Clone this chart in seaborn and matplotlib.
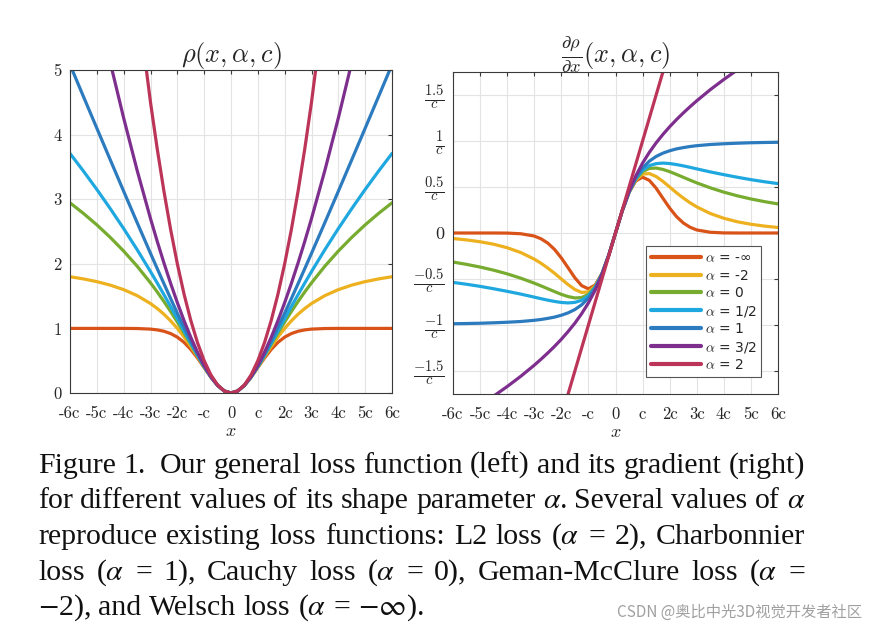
import numpy as np
import pandas as pd
import matplotlib
matplotlib.use('Agg')
import matplotlib.pyplot as plt
import seaborn as sns

# sample positions on x >= 0 (units of c); rho is even, its gradient is odd
x_half = [0, 0.25, 0.5, 0.75, 1, 1.25, 1.5, 1.75, 2, 2.25, 2.5, 2.75, 3, 3.5, 4, 4.5, 5, 5.5, 6]

alpha_labels = [r'$\alpha$ = -∞', r'$\alpha$ = -2', r'$\alpha$ = 0', r'$\alpha$ = 1/2',
                r'$\alpha$ = 1', r'$\alpha$ = 3/2', r'$\alpha$ = 2']
colors = ['#D95319', '#EDB120', '#77AC30', '#1FA8E0', '#2C7BBF', '#7E2F8E', '#BC3558']

# loss rho(x)
rho_neg_inf = [0, 0.031, 0.118, 0.245, 0.393, 0.542, 0.675, 0.784, 0.865, 0.920, 0.956, 0.977, 0.989, 0.998, 1.0, 1.0, 1.0, 1.0, 1.0]
rho_m2 = [0, 0.031, 0.118, 0.247, 0.400, 0.562, 0.720, 0.867, 1.000, 1.117, 1.220, 1.308, 1.385, 1.508, 1.600, 1.670, 1.724, 1.766, 1.800]
rho_0 = [0, 0.031, 0.118, 0.248, 0.405, 0.577, 0.754, 0.929, 1.099, 1.262, 1.417, 1.565, 1.705, 1.964, 2.197, 2.409, 2.603, 2.780, 2.944]
rho_half = [0, 0.031, 0.118, 0.249, 0.409, 0.586, 0.772, 0.962, 1.151, 1.339, 1.523, 1.703, 1.880, 2.220, 2.545, 2.854, 3.151, 3.435, 3.708]
rho_1 = [0, 0.031, 0.118, 0.250, 0.414, 0.601, 0.803, 1.016, 1.236, 1.462, 1.693, 1.926, 2.162, 2.640, 3.123, 3.610, 4.099, 4.590, 5.083]
rho_3half = [0, 0.031, 0.119, 0.253, 0.427, 0.632, 0.864, 1.120, 1.399, 1.697, 2.014, 2.349, 2.700, 3.449, 4.256, 5.117, 6.028, 6.987, 7.991]
rho_2 = [0, 0.031, 0.125, 0.281, 0.500, 0.781, 1.125, 1.531, 2.000, 2.531, 3.125, 3.781, 4.500, 6.125, 8.000, 10.125, 12.500, 15.125, 18.000]

# gradient d rho / dx (units of 1/c)
grad_neg_inf = [0, 0.242, 0.441, 0.566, 0.607, 0.572, 0.487, 0.378, 0.271, 0.179, 0.110, 0.063, 0.033, 0.008, 0.001, 0.0, 0.0, 0.0, 0.0]
grad_m2 = [0, 0.242, 0.443, 0.576, 0.640, 0.646, 0.614, 0.561, 0.500, 0.438, 0.381, 0.329, 0.284, 0.212, 0.160, 0.122, 0.095, 0.075, 0.060]
grad_0 = [0, 0.242, 0.444, 0.585, 0.667, 0.702, 0.706, 0.691, 0.667, 0.637, 0.606, 0.575, 0.545, 0.491, 0.444, 0.404, 0.370, 0.341, 0.316]
grad_half = [0, 0.242, 0.445, 0.591, 0.682, 0.732, 0.754, 0.760, 0.755, 0.744, 0.730, 0.714, 0.697, 0.664, 0.634, 0.606, 0.580, 0.557, 0.537]
grad_1 = [0, 0.243, 0.447, 0.600, 0.707, 0.781, 0.832, 0.868, 0.894, 0.914, 0.928, 0.940, 0.949, 0.962, 0.970, 0.976, 0.981, 0.984, 0.986]
grad_3half = [0, 0.243, 0.452, 0.621, 0.760, 0.877, 0.980, 1.071, 1.155, 1.232, 1.304, 1.372, 1.437, 1.558, 1.669, 1.773, 1.871, 1.964, 2.053]
grad_2 = [0, 0.25, 0.5, 0.75, 1, 1.25, 1.5, 1.75, 2, 2.25, 2.5, 2.75, 3, 3.5, 4, 4.5, 5, 5.5, 6]

xtick_vals = [-6, -5, -4, -3, -2, -1, 0, 1, 2, 3, 4, 5, 6]
xtick_labels = ['-6c', '-5c', '-4c', '-3c', '-2c', '-c', '0', 'c', '2c', '3c', '4c', '5c', '6c']
ytick_left = [0, 1, 2, 3, 4, 5]
ytick_right = [-1.5, -1, -0.5, 0, 0.5, 1, 1.5]
ytick_right_labels = [r'$\frac{-1.5}{c}$', r'$\frac{-1}{c}$', r'$\frac{-0.5}{c}$', '0',
                      r'$\frac{0.5}{c}$', r'$\frac{1}{c}$', r'$\frac{1.5}{c}$']

caption = [
    "Figure 1.  Our general loss function (left) and its gradient (right)",
    r"for different values of its shape parameter $\alpha$. Several values of $\alpha$",
    r"reproduce existing loss functions: L2 loss ($\alpha$ = 2), Charbonnier",
    r"loss ($\alpha$ = 1), Cauchy loss ($\alpha$ = 0), Geman-McClure loss ($\alpha$ =",
    r"$-$2), and Welsch loss ($\alpha$ = $-\infty$).",
]

# ---- long-form table for seaborn ----
xh = np.array(x_half)
x_full = np.concatenate([-xh[:0:-1], xh])
rho_sets = [rho_neg_inf, rho_m2, rho_0, rho_half, rho_1, rho_3half, rho_2]
grad_sets = [grad_neg_inf, grad_m2, grad_0, grad_half, grad_1, grad_3half, grad_2]
frames = []
for lab, r, g in zip(alpha_labels, rho_sets, grad_sets):
    r = np.array(r)
    g = np.array(g)
    frames.append(pd.DataFrame({
        'x': x_full,
        'rho': np.concatenate([r[:0:-1], r]),
        'grad': np.concatenate([-g[:0:-1], g]),
        'alpha': lab,
    }))
df = pd.concat(frames, ignore_index=True)

sns.set_style('white')
plt.rcParams['axes.unicode_minus'] = False

W, H = 872, 631
fig = plt.figure(figsize=(W / 100, H / 100), dpi=100)
ax1 = fig.add_axes([70 / W, 1 - 393 / H, 322 / W, 323 / H])
ax2 = fig.add_axes([453 / W, 1 - 394 / H, 325 / W, 322 / H])

sns.lineplot(data=df, x='x', y='rho', hue='alpha', hue_order=alpha_labels, palette=colors,
             linewidth=2.3, legend=False, ax=ax1)
sns.lineplot(data=df, x='x', y='grad', hue='alpha', hue_order=alpha_labels, palette=colors,
             linewidth=2.3, legend=True, ax=ax2)

for ax in (ax1, ax2):
    ax.set_xlim(-6, 6)
    ax.set_xticks(xtick_vals)
    ax.set_xticklabels(xtick_labels, fontfamily='cmr10', fontsize=12)
    ax.grid(True, color='#E3E3E3', linewidth=0.8)
    ax.set_axisbelow(True)
    for sp in ax.spines.values():
        sp.set_visible(True)
        sp.set_color('#3A3A3A')
        sp.set_linewidth(0.8)
    ax.tick_params(direction='in', length=3, top=True, right=True, color='#3A3A3A',
                   labelcolor='#262626')
    ax.tick_params(axis='x', pad=9)
    ax.tick_params(axis='y', pad=6)
    ax.set_xlabel(r'$x$', fontsize=13, math_fontfamily='cm', labelpad=1)
    ax.set_ylabel('')

ax1.set_ylim(0, 5)
ax1.set_yticks(ytick_left)
ax1.set_yticklabels([str(v) for v in ytick_left], fontfamily='cmr10', fontsize=12)
ax1.set_title(r'$\rho(x,\alpha,c)$', fontsize=19, math_fontfamily='cm', pad=6)

ax2.set_ylim(-1.75, 1.75)
ax2.set_yticks(ytick_right)
ax2.set_yticklabels(ytick_right_labels)
for t in ax2.get_yticklabels():
    if t.get_text() == '0':
        t.set_fontfamily('cmr10')
        t.set_fontsize(13)
    else:
        t.set_math_fontfamily('cm')
        t.set_fontsize(15)
ax2.set_title(r'$\frac{\partial\rho}{\partial x}(x,\alpha,c)$', fontsize=19,
              math_fontfamily='cm', pad=6.5)

handles, labels = ax2.get_legend_handles_labels()
leg = ax2.legend(handles, labels, loc='lower right', bbox_to_anchor=(0.948, 0.053),
                 borderaxespad=0, fontsize=10, handlelength=3.6, handletextpad=0.25,
                 labelspacing=0.25, fancybox=False, framealpha=1, edgecolor='#555555',
                 borderpad=0.35)
leg.get_frame().set_linewidth(0.8)
for t in leg.get_texts():
    t.set_math_fontfamily('cm')
for h in leg.get_lines():
    h.set_linewidth(3)

# ---- caption, justified like the paper ----
renderer = fig.canvas.get_renderer()
x_left, x_right = 38, 805
baselines = [473, 508.5, 544, 579.5, 615]


def caption_widths(size):
    out = []
    for line in caption:
        words = line.split(' ')
        ws = []
        for w in words:
            if not w:
                ws.append(0)
                continue
            t = fig.text(0, 0, w, fontsize=size, family='Liberation Serif', math_fontfamily='stix')
            ws.append(t.get_window_extent(renderer).width)
            t.remove()
        out.append((words, ws))
    return out


# largest size that still leaves normal word spaces on the justified lines
cap_size = 24
while cap_size > 14:
    meas = caption_widths(cap_size)
    min_gap = min((x_right - x_left - sum(ws)) / (len(ws) - 1) for _, ws in meas[:-1])
    if min_gap >= cap_size * 100 / 72 * 0.22:
        break
    cap_size -= 0.25

for i, (words, ws) in enumerate(meas):
    if i < len(meas) - 1:
        gap = (x_right - x_left - sum(ws)) / (len(words) - 1)
    else:
        gap = cap_size * 100 / 72 * 0.25
    xpos = x_left
    for w, wd in zip(words, ws):
        fig.text(xpos / W, 1 - baselines[i] / H, w, fontsize=cap_size, family='Liberation Serif',
                 math_fontfamily='stix', va='baseline', ha='left', color='#111111')
        xpos += wd + gap

fig.text(862 / W, 1 - 617 / H, 'CSDN @奥比中光3D视觉开发者社区', ha='right', va='baseline',
         color='#A0A0A0', fontsize=11, family=['Noto Sans CJK SC', 'DejaVu Sans'])

fig.savefig('out.png', dpi=100)
plt.close(fig)
